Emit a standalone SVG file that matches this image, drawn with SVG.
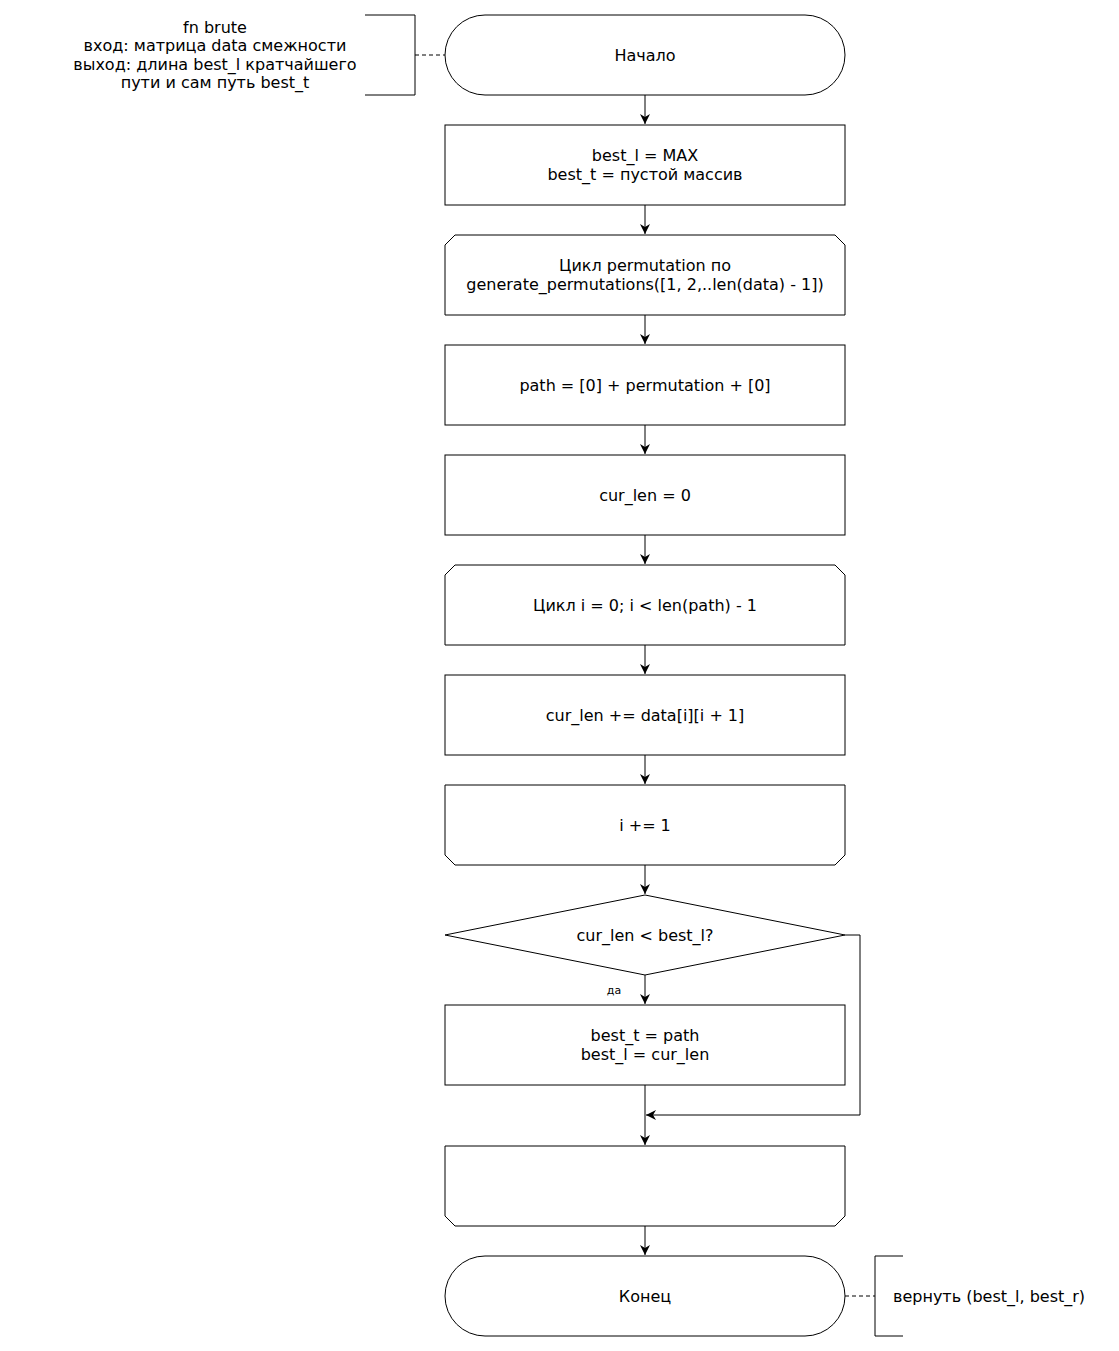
<svg xmlns="http://www.w3.org/2000/svg" width="1119" height="1351" viewBox="0 0 1119 1351">
<style>
.s{fill:#fff;stroke:#000;stroke-width:1}
.t{font-family:"DejaVu Sans",sans-serif;font-size:16px;fill:#000;text-anchor:middle}
.sm{font-family:"DejaVu Sans",sans-serif;font-size:11px;fill:#000;text-anchor:middle}
.c{fill:none;stroke:#000;stroke-width:1}
.d{fill:none;stroke:#000;stroke-width:1;stroke-dasharray:4,3}
</style>
<defs>
<marker id="a" viewBox="0 0 10 10" refX="10" refY="5" markerWidth="10" markerHeight="10" markerUnits="userSpaceOnUse" orient="auto">
<path d="M0,0 L10,5 L0,10 L3,5 Z" fill="#000"/>
</marker>
</defs>
<rect width="1119" height="1351" fill="#fff"/>
<g id="connectors">
<path class="c" d="M645,95 V124" marker-end="url(#a)"/>
<path class="c" d="M645,205 V234" marker-end="url(#a)"/>
<path class="c" d="M645,315 V344" marker-end="url(#a)"/>
<path class="c" d="M645,425 V454" marker-end="url(#a)"/>
<path class="c" d="M645,535 V564" marker-end="url(#a)"/>
<path class="c" d="M645,645 V674" marker-end="url(#a)"/>
<path class="c" d="M645,755 V784" marker-end="url(#a)"/>
<path class="c" d="M645,865 V894" marker-end="url(#a)"/>
<path class="c" d="M645,975 V1004" marker-end="url(#a)"/>
<path class="c" d="M645,1085 V1145" marker-end="url(#a)"/>
<path class="c" d="M845,935 H860 V1115 H646" marker-end="url(#a)"/>
<path class="c" d="M645,1226 V1255" marker-end="url(#a)"/>
<path class="d" d="M415,55 H445"/>
<path class="d" d="M845,1296 H875"/>
<text class="sm" x="614" y="994">да</text>
</g>
<g id="comment1">
<path class="c" d="M365,15 H415 V95 H365"/>
<text class="t" x="215" y="33">fn brute</text>
<text class="t" x="215" y="51">вход: матрица data смежности</text>
<text class="t" x="215" y="70">выход: длина best_l кратчайшего</text>
<text class="t" x="215" y="88">пути и сам путь best_t</text>
</g>
<g id="start">
<rect class="s" x="445" y="15" width="400" height="80" rx="40" ry="40"/>
<text class="t" x="645" y="61">Начало</text>
</g>
<g id="init">
<rect class="s" x="445" y="125" width="400" height="80"/>
<text class="t" x="645" y="161">best_l = MAX</text>
<text class="t" x="645" y="180">best_t = пустой массив</text>
</g>
<g id="loop1">
<path class="s" d="M455,235 H835 L845,245 V315 H445 V245 Z"/>
<text class="t" x="645" y="271">Цикл permutation по</text>
<text class="t" x="645" y="290">generate_permutations([1, 2,..len(data) - 1])</text>
</g>
<g id="path">
<rect class="s" x="445" y="345" width="400" height="80"/>
<text class="t" x="645" y="391">path = [0] + permutation + [0]</text>
</g>
<g id="curlen">
<rect class="s" x="445" y="455" width="400" height="80"/>
<text class="t" x="645" y="501">cur_len = 0</text>
</g>
<g id="loop2">
<path class="s" d="M455,565 H835 L845,575 V645 H445 V575 Z"/>
<text class="t" x="645" y="611">Цикл i = 0; i &lt; len(path) - 1</text>
</g>
<g id="add">
<rect class="s" x="445" y="675" width="400" height="80"/>
<text class="t" x="645" y="721">cur_len += data[i][i + 1]</text>
</g>
<g id="loop2end">
<path class="s" d="M445,785 H845 V855 L835,865 H455 L445,855 Z"/>
<text class="t" x="645" y="831">i += 1</text>
</g>
<g id="decision">
<path class="s" d="M645,895 L845,935 L645,975 L445,935 Z"/>
<text class="t" x="645" y="941">cur_len &lt; best_l?</text>
</g>
<g id="assign">
<rect class="s" x="445" y="1005" width="400" height="80"/>
<text class="t" x="645" y="1041">best_t = path</text>
<text class="t" x="645" y="1060">best_l = cur_len</text>
</g>
<g id="loop1end">
<path class="s" d="M445,1146 H845 V1216 L835,1226 H455 L445,1216 Z"/>
</g>
<g id="end">
<rect class="s" x="445" y="1256" width="400" height="80" rx="40" ry="40"/>
<text class="t" x="645" y="1302">Конец</text>
</g>
<g id="comment2">
<path class="c" d="M903,1256 H875 V1336 H903"/>
<text class="t" x="893" y="1302" style="text-anchor:start">вернуть (best_l, best_r)</text>
</g>
</svg>
